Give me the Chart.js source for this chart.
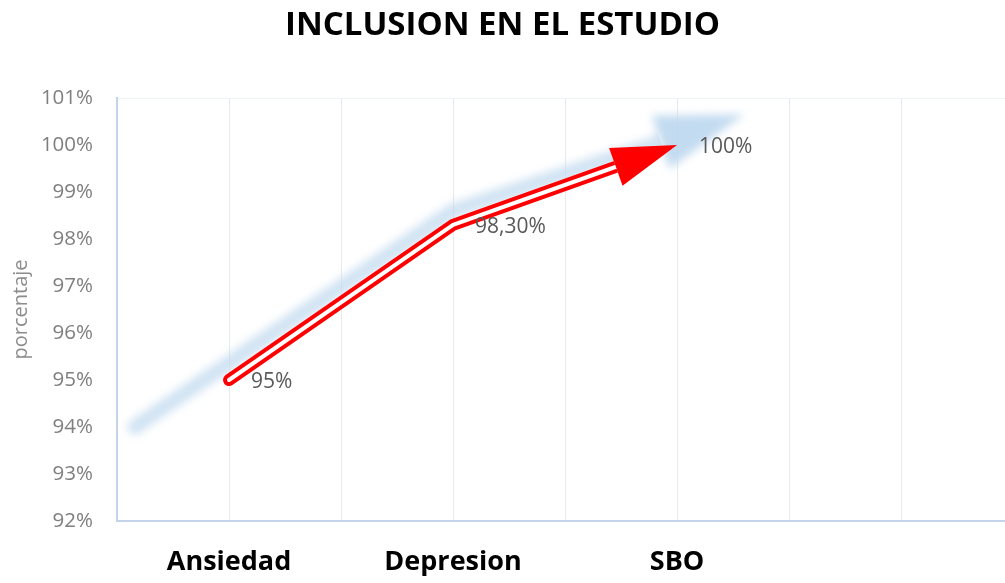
<!DOCTYPE html>
<html>
<head>
<meta charset="utf-8">
<script src="https://cdn.jsdelivr.net/npm/chart.js@4/dist/chart.umd.min.js"></script>
<style>
  body { margin: 0; background: #fff; }
  #wrap { width: 1005px; height: 583px; position: relative; }
</style>
</head>
<body>
<div id="wrap"><canvas id="myChart"></canvas></div>
<script>
// datos del grafico
const categories = ["Ansiedad", "Depresion", "SBO"];
const inclusion = [95, 98.3, 100];
const valueLabels = ["95%", "98,30%", "100%"];
const yTicks = [92, 93, 94, 95, 96, 97, 98, 99, 100, 101];
// sombra azul (decorativa) detras de la flecha
const shadowX = [-0.42, 1, 2.3];
const shadowY = [94, 98.6, 100.65];

Chart.defaults.font.family = "'Open Sans', sans-serif";

const lineData = inclusion.map((v, i) => ({ x: i, y: v }));
const shadowData = shadowX.map((v, i) => ({ x: v, y: shadowY[i] }));

// longitud y media anchura de la punta de flecha por dataset
const arrowSize = { 0: [65, 20], 1: [65, 20], 2: [88, 28] };

function arrowGeom(chart, idx) {
  const pts = chart.getDatasetMeta(idx).data;
  const a = pts[pts.length - 2], b = pts[pts.length - 1];
  const dx = b.x - a.x, dy = b.y - a.y;
  const len = Math.sqrt(dx * dx + dy * dy);
  const ux = dx / len, uy = dy / len;
  const L = arrowSize[idx][0], W = arrowSize[idx][1];
  const bx = b.x - ux * L, by = b.y - uy * L;
  return { tx: b.x, ty: b.y, bx: bx, by: by, ux: ux, uy: uy, W: W };
}

const arrowPlugin = {
  id: "arrow",
  beforeDatasetDraw(chart, args) {
    const g = arrowGeom(chart, args.index);
    const ctx = chart.ctx;
    ctx.save();
    if (args.index == 2) ctx.filter = "blur(4px)";
    // cortar la linea en la base de la punta
    const nx = -g.uy, ny = g.ux;
    ctx.beginPath();
    ctx.moveTo(g.bx + nx * 3000, g.by + ny * 3000);
    ctx.lineTo(g.bx - nx * 3000, g.by - ny * 3000);
    ctx.lineTo(g.bx - nx * 3000 - g.ux * 5000, g.by - ny * 3000 - g.uy * 5000);
    ctx.lineTo(g.bx + nx * 3000 - g.ux * 5000, g.by + ny * 3000 - g.uy * 5000);
    ctx.closePath();
    ctx.clip();
  },
  afterDatasetDraw(chart, args) {
    chart.ctx.restore();
    if (args.index == 0) return;
    const g = arrowGeom(chart, args.index);
    const ctx = chart.ctx;
    const nx = -g.uy, ny = g.ux;
    ctx.save();
    if (args.index == 2) {
      ctx.filter = "blur(4px)";
      ctx.fillStyle = "rgba(189, 215, 238, 0.9)";
    } else {
      ctx.fillStyle = "#ff0000";
    }
    ctx.beginPath();
    ctx.moveTo(g.tx, g.ty);
    ctx.lineTo(g.bx + nx * g.W, g.by + ny * g.W);
    ctx.lineTo(g.bx - nx * g.W, g.by - ny * g.W);
    ctx.closePath();
    ctx.fill();
    ctx.restore();
  },
  afterDatasetsDraw(chart) {
    // etiquetas de valores
    const ctx = chart.ctx;
    const pts = chart.getDatasetMeta(1).data;
    ctx.save();
    ctx.font = "21px 'Open Sans', sans-serif";
    ctx.fillStyle = "#595959";
    ctx.textAlign = "left";
    ctx.textBaseline = "middle";
    for (let i = 0; i < pts.length; i++) {
      ctx.fillText(valueLabels[i], pts[i].x + 22, pts[i].y + 2);
    }
    ctx.restore();
  }
};

const config = {
  type: "line",
  data: {
    datasets: [
      {
        label: "inner",
        data: lineData,
        borderColor: "#ffffff",
        borderWidth: 4,
        pointRadius: 0,
        borderCapStyle: "round",
        borderJoinStyle: "round",
        order: 0,
      },
      {
        label: "Inclusion",
        data: lineData,
        borderColor: "#ff0000",
        borderWidth: 12,
        pointRadius: 0,
        borderCapStyle: "round",
        borderJoinStyle: "round",
        order: 1,
      },
      {
        label: "sombra",
        data: shadowData,
        borderColor: "rgba(189, 215, 238, 0.7)",
        borderWidth: 15,
        pointRadius: 0,
        borderCapStyle: "round",
        borderJoinStyle: "round",
        order: 2,
      },
    ],
  },
  plugins: [arrowPlugin],
  options: {
    responsive: true,
    maintainAspectRatio: false,
    animation: false,
    layout: { padding: { left: 0, right: 0, top: 0, bottom: 0 } },
    plugins: {
      legend: { display: false },
      tooltip: { enabled: false },
      title: {
        display: true,
        text: "INCLUSION EN EL ESTUDIO",
        color: "#000000",
        font: { size: 33, weight: "bold" },
        padding: { top: 6, bottom: 52.4 },
      },
    },
    scales: {
      x: {
        type: "linear",
        min: -0.5,
        max: 3.464,
        afterBuildTicks: (scale) => {
          const t = [];
          for (let v = -0.5; v <= 3.0; v += 0.5) t.push({ value: v });
          scale.ticks = t;
        },
        afterFit: (scale) => { scale.height = 62; },
        ticks: {
          autoSkip: false,
          maxRotation: 0,
          padding: 25,
          color: "#000000",
          font: { size: 27, weight: "bold" },
          callback: (v) => (Number.isInteger(v) && categories[v] ? categories[v] : ""),
        },
        grid: {
          drawTicks: false,
          color: (c) => (c.tick && c.tick.value == -0.5 ? "rgba(0,0,0,0)" : "#e9e9e9"),
        },
        border: { color: "#c3d3ea", width: 2 },
      },
      y: {
        min: 92,
        max: 101,
        afterBuildTicks: (scale) => {
          scale.ticks = yTicks.map((v) => ({ value: v }));
        },
        afterFit: (scale) => { scale.width = 117; },
        ticks: {
          padding: 24,
          color: "#7f7f7f",
          font: { size: 20.5 },
          callback: (v) => v + "%",
        },
        grid: {
          drawTicks: false,
          color: (c) => (c.tick && c.tick.value == 101 ? "#eef2f9" : "rgba(0,0,0,0)"),
        },
        border: { color: "#c3d3ea", width: 2 },
        title: {
          display: true,
          text: "porcentaje",
          color: "#8c8c8c",
          font: { size: 20 },
          padding: { top: 9, bottom: 0 },
        },
      },
    },
  },
};

const myChart = new Chart(document.getElementById("myChart"), config);
</script>
</body>
</html>
